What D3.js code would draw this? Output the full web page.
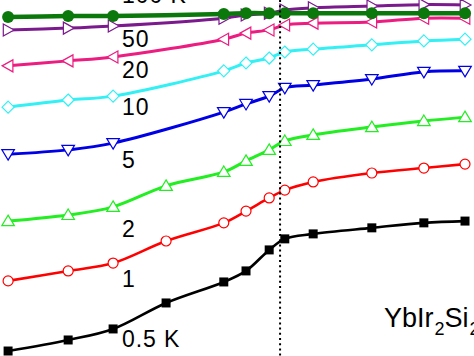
<!DOCTYPE html>
<html>
<head>
<meta charset="utf-8">
<script src="https://cdn.jsdelivr.net/npm/d3@7"></script>
<style>
  html, body { margin: 0; padding: 0; background: #fff; }
  svg { display: block; }
  text { font-family: "Liberation Sans", Arial, sans-serif; fill: #000; }
</style>
</head>
<body>
<script>
// ---- data (arbitrary units) ----
const xValues = [0.15, 1.42, 2.37, 3.49, 4.71, 5.18, 5.67, 6.0, 6.6, 7.84, 8.94, 9.81];

const seriesNames = ["0.5 K", "1", "2", "5", "10", "20", "50", "100 K"];

const s05K  = [1.4, 4.5, 7.6, 14.9, 20.8, 23.9, 29.8, 32.9, 34.3, 36.0, 37.4, 37.9];
const s1K   = [21.1, 23.9, 26.1, 32.3, 37.4, 40.7, 44.4, 46.6, 48.9, 51.4, 52.8, 53.9];
const s2K   = [37.9, 39.6, 41.9, 47.8, 51.7, 54.8, 57.9, 60.4, 62.1, 64.3, 66.0, 67.1];
const s5K   = [56.7, 57.9, 59.8, null, 68.5, 70.8, 73.0, 75.3, 76.1, 77.8, 79.8, 80.1];
const s10K  = [69.9, 71.9, 73.0, null, 80.1, 82.3, 83.7, 85.4, 86.2, 87.4, 88.5, 89.0];
const s20K  = [81.5, 82.9, 84.0, null, 89.0, 90.7, 91.6, 93.0, 93.5, 93.8, 94.9, 94.9];
const s50K  = [91.6, 92.1, 92.7, null, 94.9, 95.8, 96.3, 97.2, 97.8, 98.3, 98.7, 98.6];
const s100K = [95.2, 95.5, 95.5, null, 96.1, 96.3, 96.3, 96.3, 96.3, 96.3, 96.3, 96.3];

const allSeries = [s05K, s1K, s2K, s5K, s10K, s20K, s50K, s100K];
const labelValues = [2.5, 19.4, 33.4, 52.8, 67.7, 78.1, 86.8, 99.2];
const markerX = 5.9;
const compound = "YbIr2Si2";

// ---- styles ----
const styles = [
  {color: "#000000", shape: "square",   fill: "#000000", width: 2.6},
  {color: "#ff0000", shape: "circle",   fill: "#ffffff", width: 2.6},
  {color: "#22ee22", shape: "triUp",    fill: "#ffffff", width: 3},
  {color: "#0000e6", shape: "triDown",  fill: "#ffffff", width: 3},
  {color: "#33f0f4", shape: "diamond",  fill: "#ffffff", width: 3},
  {color: "#ec1c80", shape: "triLeft",  fill: "#ffffff", width: 3},
  {color: "#7a1a8c", shape: "triRight", fill: "#ffffff", width: 3},
  {color: "#0b780b", shape: "circle",   fill: "#0b780b", width: 4.5, r: 6}
];

const W = 474, H = 356;
const svg = d3.select("body").append("svg").attr("width", W).attr("height", H);
svg.append("rect").attr("width", W).attr("height", H).attr("fill", "#fff");

const x = d3.scaleLinear().domain([0, 10]).range([1, 474]);
const y = d3.scaleLinear().domain([0, 100]).range([356, 0]);

function shapePath(shape) {
  switch (shape) {
    case "square":   return `M-4.5,-4.5h9v9h-9Z`;
    case "triUp":    return `M0,-6L6.3,4.5L-6.3,4.5Z`;
    case "triDown":  return `M0,6L6.3,-4.5L-6.3,-4.5Z`;
    case "triLeft":  return `M-6,0L4.8,-6L4.8,6Z`;
    case "triRight": return `M6,0L-4.8,-6L-4.8,6Z`;
    case "diamond":  return `M0,-6L6,0L0,6L-6,0Z`;
  }
}

const line = d3.line()
  .x(d => x(d[0]))
  .y(d => y(d[1]))
  .curve(d3.curveCatmullRom.alpha(0.5));

allSeries.forEach((vals, i) => {
  const st = styles[i];
  const pts = xValues.map((xv, j) => [xv, vals[j]]).filter(d => d[1] !== null);
  const g = svg.append("g");
  g.append("path")
    .attr("d", line(pts))
    .attr("fill", "none")
    .attr("stroke", st.color)
    .attr("stroke-width", st.width)
    .attr("stroke-linejoin", "round");
  pts.forEach(p => {
    if (st.shape === "circle") {
      g.append("circle")
        .attr("cx", x(p[0])).attr("cy", y(p[1]))
        .attr("r", st.r || 5)
        .attr("fill", st.fill)
        .attr("stroke", st.color)
        .attr("stroke-width", st.r ? 0 : 1.2);
    } else {
      g.append("path")
        .attr("transform", `translate(${x(p[0])},${y(p[1])})`)
        .attr("d", shapePath(st.shape))
        .attr("fill", st.fill)
        .attr("stroke", st.color)
        .attr("stroke-width", st.shape === "square" ? 0 : 1.2);
    }
  });
});

// dotted vertical marker
svg.append("line")
  .attr("x1", x(markerX)).attr("x2", x(markerX))
  .attr("y1", 0).attr("y2", H)
  .attr("stroke", "#000")
  .attr("stroke-width", 2)
  .attr("stroke-dasharray", "2,3.2");

// series labels
seriesNames.forEach((name, i) => {
  svg.append("text")
    .attr("x", x(2.37) + 9)
    .attr("y", y(labelValues[i]))
    .attr("font-size", 23)
    .attr("letter-spacing", 0.9)
    .text(name);
});

// compound label with subscripts
const t = svg.append("text")
  .attr("x", 384)
  .attr("y", 327)
  .attr("font-size", 27);
const parts = compound.match(/[A-Za-z]+|\d+/g);
let lowered = false;
parts.forEach(p => {
  if (/\d/.test(p)) {
    t.append("tspan").attr("font-size", 18).attr("dy", 8).attr("dx", 1).text(p);
    lowered = true;
  } else {
    const ts = t.append("tspan").text(p);
    if (lowered) { ts.attr("dy", -8); lowered = false; }
  }
});
</script>
</body>
</html>
